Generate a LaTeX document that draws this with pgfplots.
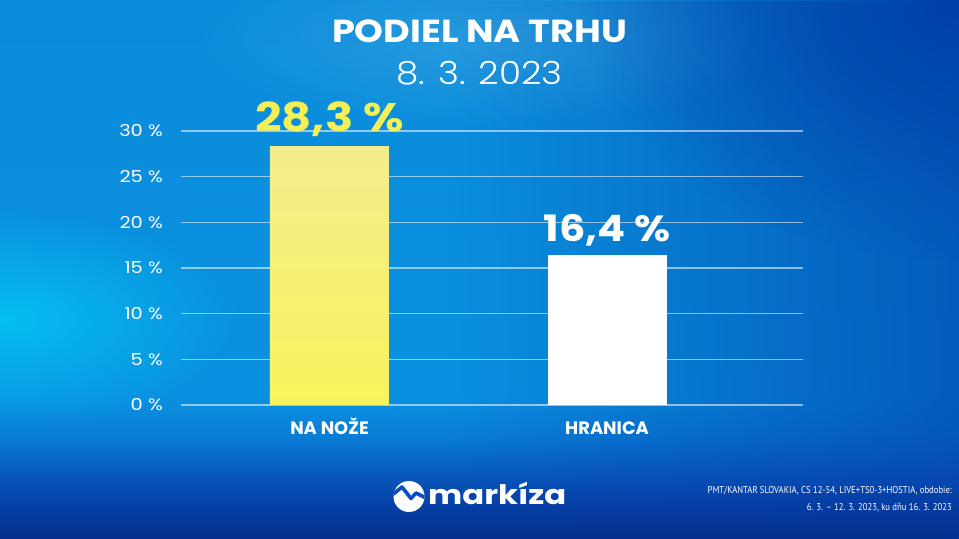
\documentclass[border=0pt]{standalone}
\usepackage{pgfplots}
\pgfplotsset{compat=1.18}
\usepackage{fontspec}
\setmainfont{Poppins}
\newfontfamily\poplight{Poppins Light}
\newfontfamily\notefont{PT Sans}
\usetikzlibrary{fadings}
\tikzfading[name=glow, inner color=transparent!0, outer color=transparent!100]
\tikzfading[name=toR, left color=transparent!100, right color=transparent!0]
\tikzfading[name=toB, top color=transparent!100, bottom color=transparent!0]
\definecolor{bg0}{HTML}{05308F}
\definecolor{bg2}{HTML}{0A50C8}
\definecolor{bg4}{HTML}{0A92E2}
\definecolor{bg5}{HTML}{0A8CDA}
\definecolor{cyanglow}{HTML}{04C4F4}
\definecolor{darkblue}{HTML}{0040A8}
\definecolor{yTop}{HTML}{F2ED8C}
\definecolor{yBot}{HTML}{F8F35C}
\definecolor{yLab}{HTML}{F4EF55}
\definecolor{logoblue}{HTML}{0A4CC4}
\begin{document}
\begin{tikzpicture}
\useasboundingbox (0,0) rectangle (959bp,539bp);
\begin{scope}
\clip (0,0) rectangle (959bp,539bp);
\shade[top color=bg5, bottom color=bg4] (0,0) rectangle (959bp,539bp);
\fill[darkblue, path fading=toR, fill opacity=0.65] (450bp,0bp) rectangle (959bp,539bp);
\fill[darkblue, path fading=glow] (959bp,539bp) ellipse (380bp and 260bp);
\fill[cyanglow, path fading=glow, fill opacity=0.9] (0bp,220bp) ellipse (240bp and 110bp);
\fill[white, path fading=glow, fill opacity=0.12] (480bp,500bp) ellipse (300bp and 90bp);
\shade[top color=bg2, bottom color=bg0, path fading=toB] (0,0) rectangle (959bp,140bp);
\shade[top color=bg2, bottom color=bg0, path fading=toB] (0,0) rectangle (959bp,100bp);
\end{scope}
% title
\node[anchor=base, text=white, font=\fontsize{32}{36}\selectfont\bfseries] at (479.5bp,496bp) {\scalebox{1.15}[1]{PODIEL NA TRHU}};
\node[anchor=base, text=white, font=\poplight\fontsize{32}{36}\selectfont] at (479.5bp,454bp) {\scalebox{1.12}[1]{8. 3. 2023}};
% logo
\begin{scope}
\fill[white] (409bp,42.5bp) circle (15.5bp);
\clip (409bp,42.5bp) circle (15.5bp);
\draw[logoblue, line width=3.6bp, line join=round, line cap=round] (392bp,44bp) -- (402bp,52bp) -- (411bp,40.5bp) -- (416bp,46bp) -- (426bp,41bp);
\end{scope}
\node[anchor=base west, inner sep=0pt, text=white, font=\fontsize{27}{30}\selectfont\bfseries] at (428bp,35bp) {\scalebox{1.2}[1]{markíza}};
% footnote
\node[anchor=base east, inner sep=0pt, text=white, font=\notefont\fontsize{10}{12}\selectfont] at (952bp,45bp) {\scalebox{0.87}[1]{PMT/KANTAR SLOVAKIA, CS 12-54, LIVE+TS0-3+HOSTIA, obdobie:}};
\node[anchor=base east, inner sep=0pt, text=white, font=\notefont\fontsize{10}{12}\selectfont] at (952bp,29bp) {\scalebox{0.87}[1]{6. 3. – 12. 3. 2023, ku dňu 16. 3. 2023}};
\begin{axis}[
  at={(181bp,134bp)}, anchor=south west,
  scale only axis, width=622bp, height=274bp,
  xmin=-0.535, xmax=1.706, ymin=0, ymax=30,
  axis line style={draw=none},
  major tick length=0pt,
  xtick={0,1}, xticklabels={NA NOŽE, HRANICA},
  ytick={0,5,10,15,20,25,30},
  yticklabels={\scalebox{1.18}[1]{0 \%},\scalebox{1.18}[1]{5 \%},\scalebox{1.18}[1]{10 \%},\scalebox{1.18}[1]{15 \%},\scalebox{1.18}[1]{20 \%},\scalebox{1.18}[1]{25 \%},\scalebox{1.18}[1]{30 \%}},
  ymajorgrids,
  grid style={white, opacity=0.55, line width=1.2bp},
  yticklabel style={anchor=east, inner sep=0pt, xshift=-18bp, text=white, font=\fontsize{16.5}{20}\selectfont},
  xticklabel style={anchor=base, inner sep=0pt, yshift=-30bp, text=white, font=\fontsize{18}{22}\selectfont\bfseries},
  /pgf/number format/assume math mode=true,
  clip=false,
]
\addplot[ybar, bar width=119bp, bar shift=0pt, draw=none, top color=yTop, bottom color=yBot,
  nodes near coords={\scalebox{1.17}[1]{\pgfmathprintnumber[fixed,fixed zerofill,precision=1,use comma]{\pgfplotspointmeta}~\%}},
  nodes near coords style={anchor=base, yshift=15.5bp, text=yLab, font=\fontsize{40}{44}\selectfont\bfseries}]
  coordinates {(0,28.3)};
\addplot[ybar, bar width=119bp, bar shift=0pt, draw=none, fill=white,
  nodes near coords={\scalebox{1.14}[1]{\pgfmathprintnumber[fixed,fixed zerofill,precision=1,use comma]{\pgfplotspointmeta}~\%}},
  nodes near coords style={anchor=base, yshift=13.5bp, text=white, font=\fontsize{36.5}{40}\selectfont\bfseries}]
  coordinates {(1,16.4)};
\end{axis}
\end{tikzpicture}
\end{document}
